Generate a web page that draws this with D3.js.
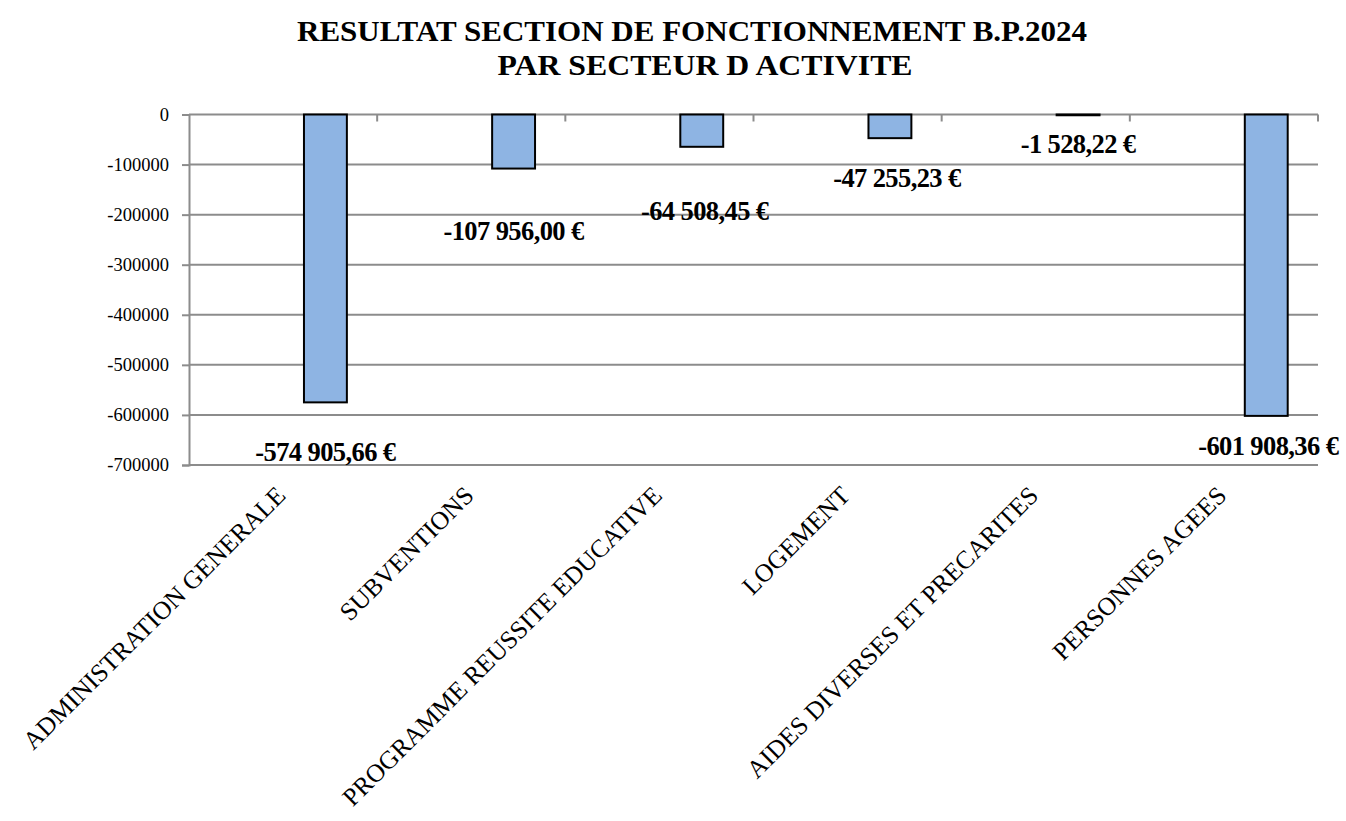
<!DOCTYPE html>
<html>
<head>
<meta charset="utf-8">
<script src="https://cdn.jsdelivr.net/npm/d3@7"></script>
<style>
  html, body { margin: 0; padding: 0; background: #fff; }
  svg { display: block; }
  text { font-family: "Liberation Serif", "Times New Roman", serif; fill: #000; }
</style>
</head>
<body>
<svg id="chart" width="1346" height="821"></svg>
<script>
// ---- data ----
const titleLines = ["RESULTAT SECTION DE FONCTIONNEMENT B.P.2024", "PAR SECTEUR D ACTIVITE"];
const categories = ["ADMINISTRATION GENERALE", "SUBVENTIONS", "PROGRAMME REUSSITE EDUCATIVE", "LOGEMENT", "AIDES DIVERSES ET PRECARITES", "PERSONNES AGEES"];
const values = [-574905.66, -107956.00, -64508.45, -47255.23, -1528.22, -601908.36];
const valueLabels = ["-574 905,66 €", "-107 956,00 €", "-64 508,45 €", "-47 255,23 €", "-1 528,22 €", "-601 908,36 €"];
const yTicks = [0, -100000, -200000, -300000, -400000, -500000, -600000, -700000];

// ---- layout (not data) ----
const plot = { left: 189, right: 1318, top: 114.5, bottom: 465 };
const barOffsetFrac = 0.611, barWidthFrac = 0.228;
const labelDx = [0, 0, 3, 7, 0, 2];
const labelDy = [50, 62, 64, 40, 29, 30];
const titleLengths = [790, 415];
const gridColor = "#8c8c8c";

const svg = d3.select("#chart");

const x = d3.scaleBand().domain(categories).range([plot.left, plot.right]).padding(0);
const y = d3.scaleLinear().domain([-700000, 0]).range([plot.bottom, plot.top]);

// title
svg.append("g").selectAll("text").data(titleLines).join("text")
  .attr("x", (d, i) => i === 0 ? 692 : 705)
  .attr("y", (d, i) => 41 + i * 34)
  .attr("text-anchor", "middle")
  .attr("font-weight", "bold")
  .attr("font-size", 30)
  .attr("textLength", (d, i) => titleLengths[i])
  .attr("lengthAdjust", "spacingAndGlyphs")
  .text(d => d);

// gridlines
svg.append("g").selectAll("line").data(yTicks).join("line")
  .attr("x1", plot.left).attr("x2", plot.right)
  .attr("y1", d => y(d)).attr("y2", d => y(d))
  .attr("stroke", gridColor).attr("stroke-width", 2);

// y axis
const yAxis = d3.axisLeft(y).tickValues(yTicks).tickSize(7).tickPadding(13).tickFormat(d3.format("d"));
const gy = svg.append("g").attr("transform", `translate(${plot.left},0)`).call(yAxis);
gy.select(".domain").attr("stroke", gridColor).attr("stroke-width", 2);
gy.selectAll(".tick line").attr("stroke", gridColor).attr("stroke-width", 2);
gy.selectAll(".tick text").attr("font-family", "Liberation Serif").attr("font-size", 18.5).attr("fill", "#000");
gy.selectAll(".tick text").text(d => d === 0 ? "0" : "-" + Math.abs(d));

// category ticks on zero line
const bounds = categories.map(c => x(c) + x.bandwidth());
svg.append("g").selectAll("line").data(bounds).join("line")
  .attr("x1", d => d).attr("x2", d => d)
  .attr("y1", y(0)).attr("y2", y(0) + 7)
  .attr("stroke", gridColor).attr("stroke-width", 2);

// bars
svg.append("g").selectAll("rect").data(values).join("rect")
  .attr("x", (d, i) => x(categories[i]) + x.bandwidth() * barOffsetFrac)
  .attr("width", x.bandwidth() * barWidthFrac)
  .attr("y", d => y(Math.max(0, d)))
  .attr("height", d => Math.abs(y(d) - y(0)))
  .attr("fill", "#8EB4E3")
  .attr("stroke", "#000")
  .attr("stroke-width", 2);

// value labels
svg.append("g").selectAll("text").data(values).join("text")
  .attr("x", (d, i) => x(categories[i]) + x.bandwidth() * (barOffsetFrac + barWidthFrac / 2) + labelDx[i])
  .attr("y", (d, i) => y(d) + labelDy[i])
  .attr("text-anchor", "middle")
  .attr("dominant-baseline", "central")
  .attr("font-weight", "bold")
  .attr("font-size", 26.5)
  .attr("letter-spacing", "-0.6")
  .text((d, i) => valueLabels[i]);

// category labels
svg.append("g").selectAll("text").data(categories).join("text")
  .attr("transform", d => `translate(${x(d) + x.bandwidth() / 2 + 4},${497}) rotate(-45)`)
  .attr("text-anchor", "end")
  .attr("font-size", 25.5)
  .text(d => d);
</script>
</body>
</html>
